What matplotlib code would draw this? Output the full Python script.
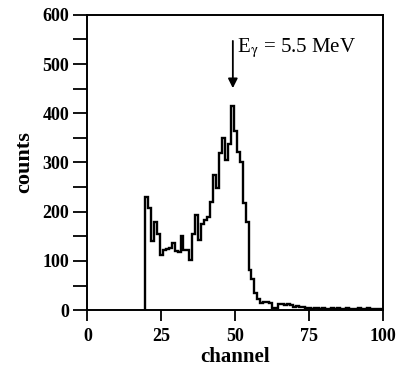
import numpy as np
import matplotlib.pyplot as plt
from matplotlib.ticker import MultipleLocator

# channel spectrum, one value per channel (channels 20..99)
first_channel = 20
counts = [230, 207, 140, 180, 155, 113, 123, 125, 126, 136,
          120, 118, 150, 122, 122, 102, 155, 193, 143, 175,
          183, 190, 220, 275, 248, 319, 350, 305, 338, 415,
          363, 322, 302, 217, 180, 81, 64, 34, 22, 15,
          16, 17, 14, 4, 4, 12, 13, 10, 12, 11,
          7, 8, 6, 7, 4, 5, 3, 4, 5, 3,
          4, 2, 3, 5, 3, 4, 3, 2, 4, 3,
          3, 2, 4, 3, 2, 4, 3, 2, 3, 2]
x_ticks = [0, 25, 50, 75, 100]
y_ticks = [0, 100, 200, 300, 400, 500, 600]
peak_channel = 49.2
label_text = r'E$_{\mathrm{\gamma}}$ = 5.5 MeV'

plt.rcParams['font.family'] = ['Liberation Serif', 'DejaVu Serif']
plt.rcParams['mathtext.fontset'] = 'stix'

fig = plt.figure(figsize=(3.99, 3.71), dpi=100)
ax = fig.add_axes([0.219, 0.164, 0.741, 0.796])

edges = np.arange(len(counts) + 1) + first_channel - 0.5
ax.stairs(counts, edges, baseline=0, color='black', linewidth=1.7)

ax.set_xlim(0, 100)
ax.set_ylim(0, 600)
ax.set_xticks(x_ticks)
ax.set_yticks(y_ticks)
ax.yaxis.set_minor_locator(MultipleLocator(50))
ax.tick_params(axis='both', which='both', direction='out', width=1.3, labelsize=13)
ax.tick_params(axis='y', which='both', length=10, pad=3)
ax.tick_params(axis='x', which='major', length=8, pad=5)
for lab in ax.get_xticklabels() + ax.get_yticklabels():
    lab.set_fontweight('bold')
for s in ax.spines.values():
    s.set_linewidth(1.4)

ax.set_xlabel('channel', fontsize=15, fontweight='bold', labelpad=1)
ax.set_ylabel('counts', fontsize=16, fontweight='bold', labelpad=6)

# arrow marking the peak
ax.annotate('', xy=(peak_channel, 451), xytext=(peak_channel, 547),
            arrowprops=dict(arrowstyle='-|>', color='black', lw=1.3,
                            mutation_scale=14, shrinkA=0, shrinkB=0))
ax.text(50.6, 524, label_text, fontsize=15, va='baseline', ha='left')

fig.savefig('out.png', dpi=100)
